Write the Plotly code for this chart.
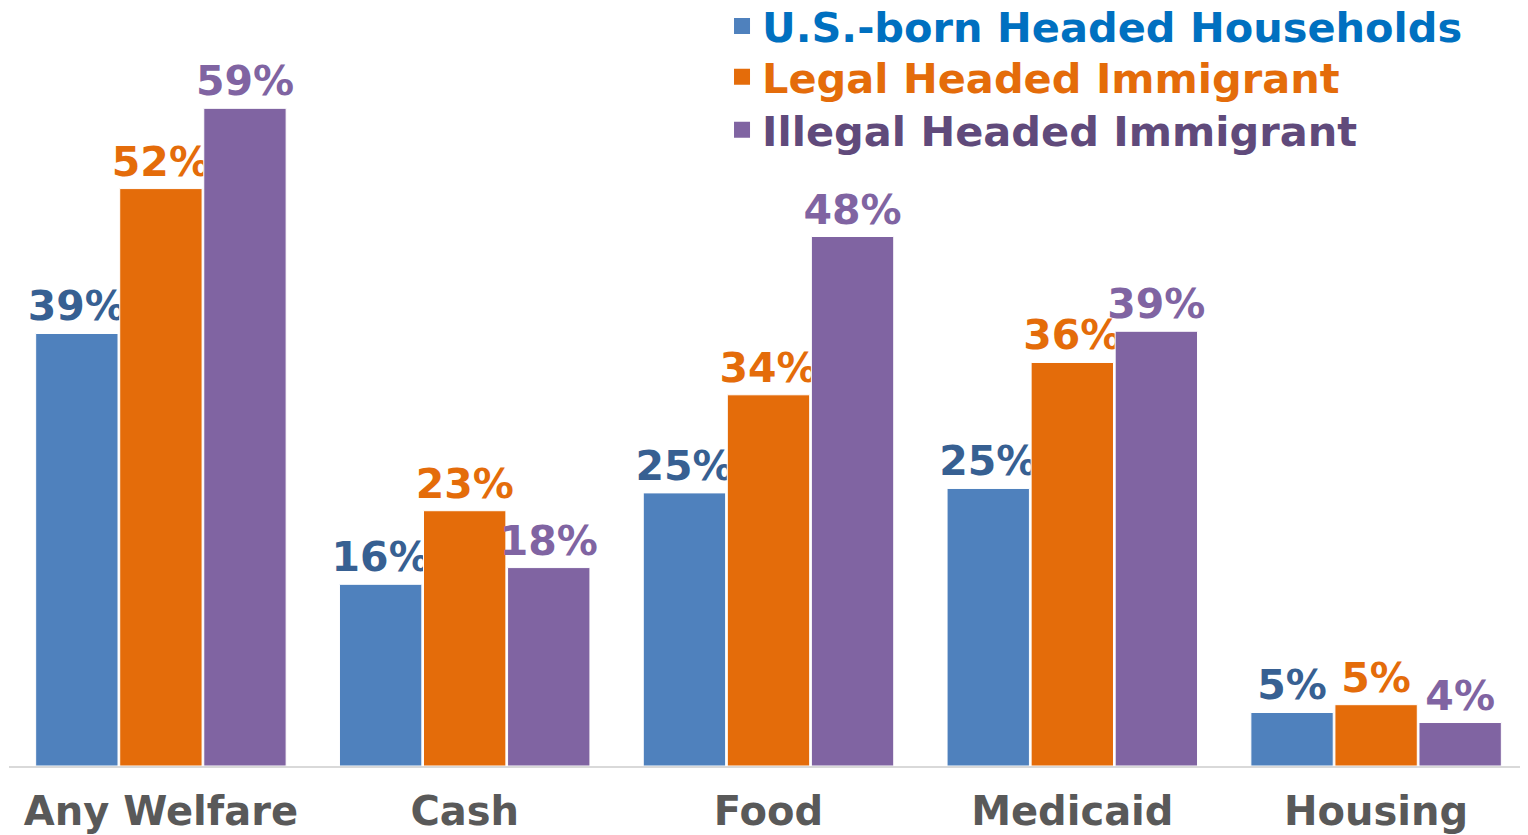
import plotly.graph_objects as go

categories = ["Any Welfare", "Cash", "Food", "Medicaid", "Housing"]
series_names = ["U.S.-born Headed Households", "Legal Headed Immigrant", "Illegal Headed Immigrant"]
us_born = [38.8, 16.3, 24.5, 24.9, 4.8]
legal = [51.8, 22.9, 33.3, 36.2, 5.5]
illegal = [59.0, 17.8, 47.5, 39.0, 3.9]
us_born_labels = ["39%", "16%", "25%", "25%", "5%"]
legal_labels = ["52%", "23%", "34%", "36%", "5%"]
illegal_labels = ["59%", "18%", "48%", "39%", "4%"]

bar_colors = ["#4F81BD", "#E46C0A", "#8064A2"]
label_colors = ["#376092", "#E46C0A", "#8064A2"]
legend_colors = ["#0070C0", "#E46C0A", "#604A7B"]

FONT = "DejaVu Sans"

fig = go.Figure()
for name, vals, labs, bc, lc in zip(series_names, [us_born, legal, illegal],
                                     [us_born_labels, legal_labels, illegal_labels],
                                     bar_colors, label_colors):
    fig.add_trace(go.Bar(
        x=categories, y=vals, text=labs, name=name,
        marker=dict(color=bc, line=dict(color="white", width=1)),
        textposition="outside", constraintext="none", cliponaxis=False,
        textfont=dict(family=FONT, size=41, color=lc, weight="bold"),
        showlegend=False, hoverinfo="skip",
    ))

# legend entries, one legend per row
legend_ids = ["legend", "legend2", "legend3"]
for name, bc, tc, lid in zip(series_names, bar_colors, legend_colors, legend_ids):
    fig.add_trace(go.Scatter(
        x=[None], y=[None], mode="markers", name=f"<span style='color:{tc}'>{name}</span>",
        marker=dict(symbol="square", size=16, color=bc),
        showlegend=True, legend=lid,
    ))

legend_style = dict(
    x=0.4694, xanchor="left", yanchor="top",
    font=dict(family=FONT, size=41.5, weight="bold"),
    bgcolor="rgba(0,0,0,0)", itemsizing="trace",
)

fig.update_layout(
    width=1520, height=827,
    margin=dict(l=1, r=0, t=0, b=69, autoexpand=False),
    paper_bgcolor="white", plot_bgcolor="white",
    barmode="group", bargap=0.17, bargroupgap=0.02,
    legend=dict(y=1.0205, **legend_style),
    legend2=dict(y=0.9533, **legend_style),
    legend3=dict(y=0.8834, **legend_style),
    xaxis=dict(
        showline=True, linecolor="#D9D9D9", linewidth=1.5,
        ticks="", ticklabelstandoff=9, automargin=False,
        tickfont=dict(family=FONT, size=40, color="#595959", weight="bold"),
        showgrid=False, zeroline=False,
    ),
    yaxis=dict(range=[0, 68.0], visible=False, showgrid=False, zeroline=False, automargin=False),
)

fig.write_html("out.html")
